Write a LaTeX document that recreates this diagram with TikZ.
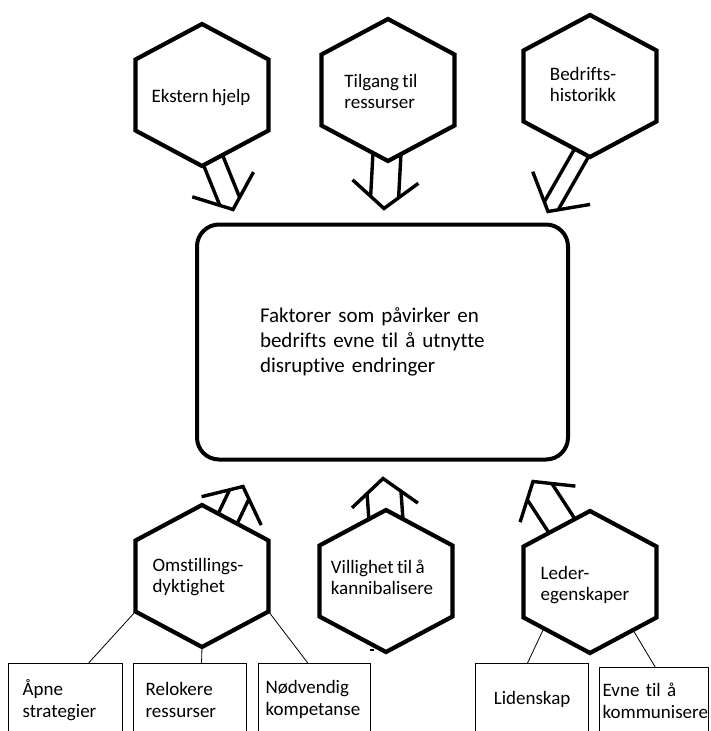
\documentclass[tikz,border=0pt]{standalone}
\usepackage{fontspec}
\setmainfont{Carlito}[Ligatures=NoCommon, WordSpace=0.8]
\usetikzlibrary{calc}

\tikzset{
  hexline/.style={line width=4.2pt, line join=miter},
  arrowline/.style={line width=3.4pt},
  hextext/.style={align=left, inner sep=0pt, font=\fontsize{19}{21}\selectfont},
  factorbox/.style={draw, line width=1.2pt, anchor=north west, minimum height=72pt,
    font=\fontsize{19}{22}\selectfont},
  thinline/.style={line width=0.8pt}
}

% hexagon round a centre coordinate
\newcommand{\hexframe}[1]{%
  \draw[hexline] ($(#1)+(0,-71)$) -- ($(#1)+(66.5,-35.5)$) -- ($(#1)+(66.5,35.5)$)
    -- ($(#1)+(0,71)$) -- ($(#1)+(-66.5,35.5)$) -- ($(#1)+(-66.5,-35.5)$) -- cycle;}

% open fat arrow: start, tip, half width of the shaft
\newcommand{\fatarrow}[3]{%
  \pgfmathsetmacro{\famid}{27*#3/33}
  \coordinate (fa-h) at ($(#2)!27pt!(#1)$);
  \coordinate (fa-m) at ($(#2)!\famid pt!(#1)$);
  \draw[arrowline] ($(#1)!#3pt!90:(#2)$) -- ($(fa-m)!#3pt!90:(#2)$)
                   ($(#1)!#3pt!-90:(#2)$) -- ($(fa-m)!#3pt!-90:(#2)$);
  \draw[arrowline] ($(fa-h)!33pt!90:(#2)$) -- (#2) -- ($(fa-h)!33pt!-90:(#2)$);}

\begin{document}
\begin{tikzpicture}[x=1pt, y=-1pt]

    \useasboundingbox (0,0) rectangle (710,731);
    \clip (0,0) rectangle (710,731);

    % Central box
    \node[draw, line width=4pt, rounded corners=22pt, minimum width=371pt, minimum height=235pt,
          text width=245pt, align=left, font=\fontsize{21}{25}\selectfont]
          (box) at (382.5,342) {Faktorer som påvirker en\\bedrifts evne til å utnytte\\disruptive endringer};

    % Hexagon centres
    \coordinate (hA) at (202,95);
    \coordinate (hB) at (388,90);
    \coordinate (hC) at (590,86);
    \coordinate (hD) at (202,576);
    \coordinate (hE) at (386,581);
    \coordinate (hF) at (590,582);

    \hexframe{hA} \hexframe{hB} \hexframe{hC}
    \hexframe{hD} \hexframe{hE} \hexframe{hF}

    % Hexagon texts
    \node[hextext] (tA) at (201,98) {Ekstern hjelp};
    \node[hextext] (tB) at (381,91) {Tilgang til\\ressurser};
    \node[hextext] (tC) at (583,84) {Bedrifts-\\historikk};
    \node[hextext] (tD) at (198,577) {Omstillings-\\dyktighet};
    \node[hextext] (tE) at (382,577) {Villighet til å\\kannibalisere};
    \node[hextext] (tF) at (585,585) {Leder-\\egenskaper};

    % Arrows towards the box
    \coordinate (sA) at ($(hA)+(11,65)$);   \coordinate (pA) at ($(box.north west)+(38,-13)$);
    \coordinate (sB) at ($(hB)+(-1,63)$);   \coordinate (pB) at ($(box.north west)+(189,-14)$);
    \coordinate (sC) at ($(hC)+(-8,66)$);   \coordinate (pC) at ($(box.north west)+(353,-11)$);
    \coordinate (sD) at ($(hD)+(26,-58)$);  \coordinate (pD) at ($(box.south west)+(48,25)$);
    \coordinate (sE) at ($(hE)+(0,-61)$);   \coordinate (pE) at ($(box.south west)+(188,17)$);
    \coordinate (sF) at ($(hF)+(-28,-56)$); \coordinate (pF) at ($(box.south west)+(338,20)$);

    \fatarrow{sA}{pA}{10.7}
    \fatarrow{sB}{pB}{14}
    \fatarrow{sC}{pC}{8}
    \fatarrow{sD}{pD}{10.7}
    \fatarrow{sE}{pE}{17}
    \fatarrow{sF}{pF}{14.7}

    % Sub-factor boxes
    \node[factorbox, text width=86pt, inner xsep=14pt] (bA) at (8,663) {Åpne\\strategier};
    \node[factorbox, text width=89pt, inner xsep=12pt] (bB) at (133,663) {Relokere\\ressurser};
    \node[factorbox, text width=98pt, inner xsep=7pt] (bC) at (258,663) {Nødvendig\\kompetanse};
    \node[factorbox, text width=103pt, inner xsep=5pt, align=center] (bD) at (475,663) {Lidenskap};
    \node[factorbox, text width=103pt, inner xsep=3pt, minimum height=66pt] (bE) at (599,667) {Evne til å\\kommunisere};

    % Thin lines to the boxes
    \draw[thinline] ($(hD)+(-66.5,35.5)$) -- ($(bA.north west)!0.7!(bA.north east)$);
    \draw[thinline] ($(hD)+(0,71)$) -- ($(bB.north west)!0.6!(bB.north east)$);
    \draw[thinline] ($(hD)+(66.5,35.5)$) -- ($(bC.north west)!0.44!(bC.north east)$);
    \draw[thinline] ($(hF)+(-46,46)$) -- ($(bD.north west)!0.46!(bD.north east)$);
    \draw[thinline] ($(hF)+(43,48)$) -- ($(bE.north west)!0.51!(bE.north east)$);

    % small dash under the middle hexagon
    \draw[line width=1.2pt] (370,650) -- (374,650);

\end{tikzpicture}
\end{document}
